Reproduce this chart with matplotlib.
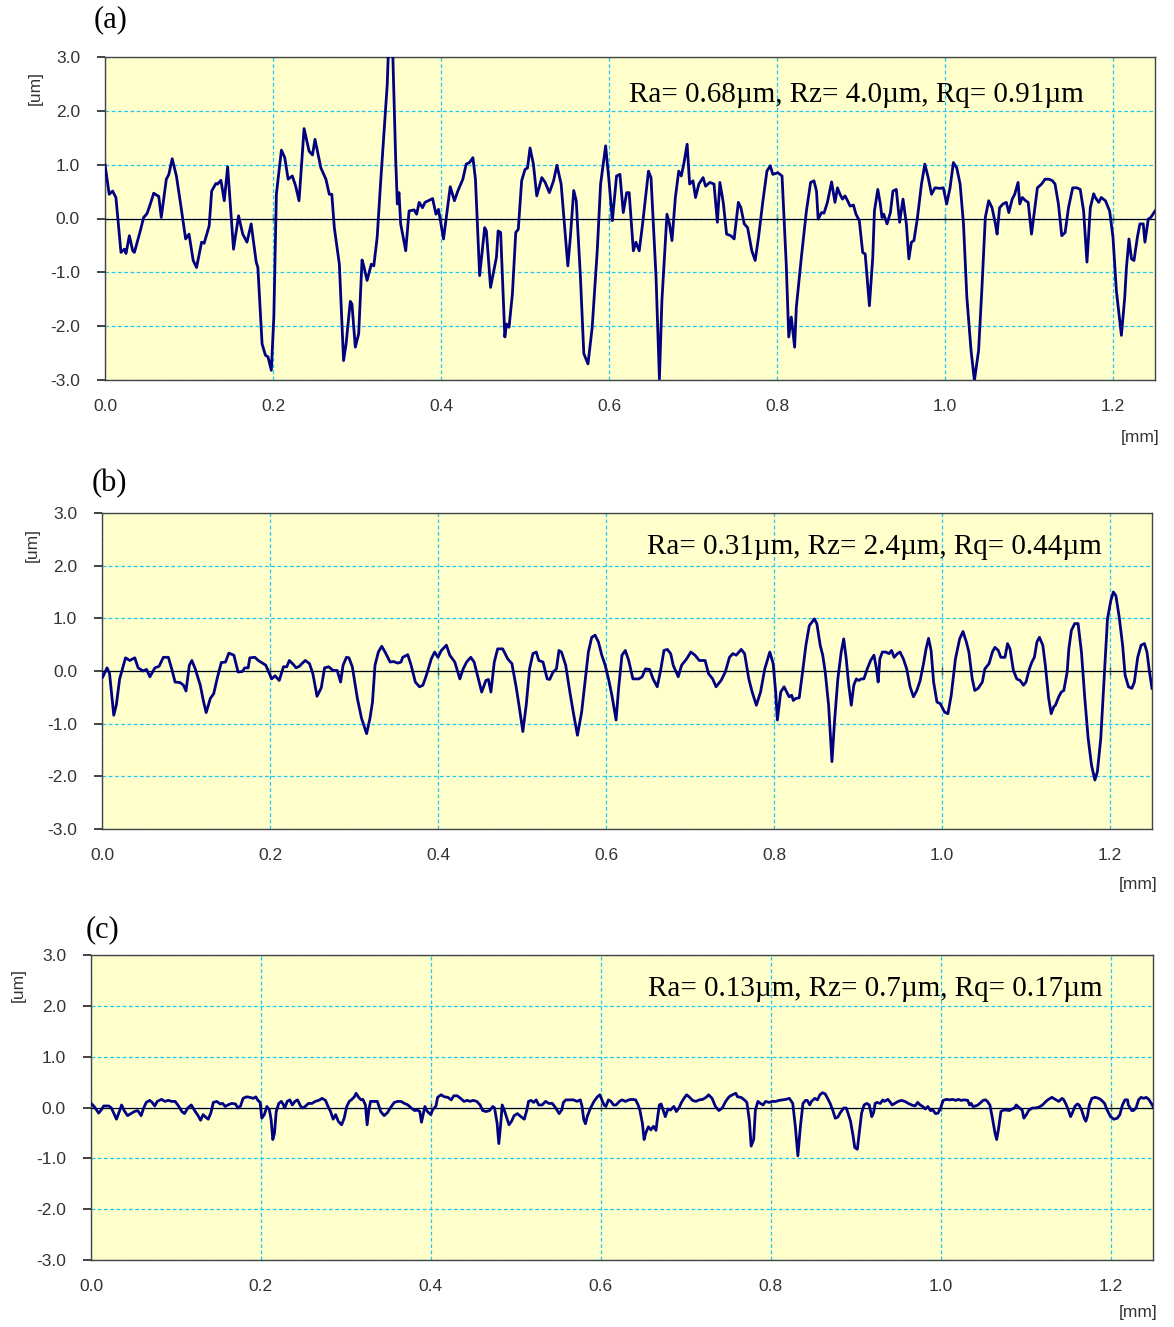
import matplotlib.pyplot as plt
import numpy as np

# perfil (a)
x_a = [0.000, 0.005, 0.009, 0.013, 0.019, 0.023, 0.025, 0.029, 0.033, 0.035, 0.042, 0.046, 0.050, 0.054, 0.058,
       0.064, 0.067, 0.073, 0.076, 0.080, 0.085, 0.090, 0.096, 0.100, 0.105, 0.109, 0.115, 0.118, 0.124, 0.127,
       0.132, 0.134, 0.138, 0.142, 0.146, 0.153, 0.159, 0.164, 0.169, 0.174, 0.180, 0.182, 0.187, 0.191, 0.194,
       0.198, 0.201, 0.204, 0.210, 0.214, 0.218, 0.223, 0.227, 0.231, 0.237, 0.243, 0.247, 0.250, 0.257, 0.263,
       0.267, 0.270, 0.273, 0.279, 0.284, 0.287, 0.292, 0.294, 0.298, 0.302, 0.306, 0.308, 0.312, 0.317, 0.320,
       0.324, 0.328, 0.332, 0.336, 0.338, 0.342, 0.346, 0.348, 0.350, 0.352, 0.358, 0.362, 0.368, 0.371, 0.374,
       0.378, 0.381, 0.390, 0.394, 0.397, 0.403, 0.411, 0.416, 0.420, 0.426, 0.430, 0.434, 0.438, 0.441, 0.446,
       0.452, 0.454, 0.459, 0.466, 0.468, 0.471, 0.476, 0.478, 0.481, 0.485, 0.489, 0.492, 0.496, 0.500, 0.503,
       0.506, 0.510, 0.514, 0.520, 0.524, 0.529, 0.534, 0.538, 0.543, 0.551, 0.554, 0.558, 0.561, 0.566, 0.570,
       0.575, 0.580, 0.586, 0.590, 0.596, 0.600, 0.604, 0.609, 0.613, 0.617, 0.621, 0.624, 0.629, 0.632, 0.636,
       0.640, 0.647, 0.650, 0.656, 0.660, 0.663, 0.669, 0.672, 0.675, 0.679, 0.683, 0.686, 0.689, 0.693, 0.696,
       0.700, 0.703, 0.707, 0.712, 0.715, 0.720, 0.725, 0.729, 0.732, 0.736, 0.740, 0.745, 0.749, 0.754, 0.757,
       0.761, 0.765, 0.770, 0.774, 0.778, 0.783, 0.788, 0.792, 0.795, 0.801, 0.806, 0.811, 0.814, 0.817, 0.821,
       0.823, 0.829, 0.835, 0.840, 0.844, 0.847, 0.849, 0.853, 0.856, 0.860, 0.865, 0.869, 0.872, 0.875, 0.878,
       0.881, 0.884, 0.887, 0.891, 0.894, 0.898, 0.902, 0.905, 0.910, 0.914, 0.916, 0.920, 0.923, 0.925, 0.927,
       0.931, 0.935, 0.938, 0.942, 0.946, 0.950, 0.954, 0.957, 0.960, 0.963, 0.967, 0.972, 0.976, 0.980, 0.984,
       0.988, 0.994, 0.998, 1.002, 1.006, 1.010, 1.014, 1.018, 1.022, 1.026, 1.031, 1.035, 1.040, 1.044, 1.048,
       1.052, 1.056, 1.060, 1.062, 1.065, 1.069, 1.073, 1.076, 1.080, 1.083, 1.087, 1.089, 1.092, 1.096, 1.099,
       1.103, 1.106, 1.110, 1.115, 1.119, 1.124, 1.128, 1.131, 1.135, 1.139, 1.143, 1.147, 1.152, 1.157, 1.161,
       1.165, 1.169, 1.173, 1.177, 1.179, 1.183, 1.186, 1.191, 1.196, 1.200, 1.204, 1.210, 1.214, 1.216, 1.219,
       1.222, 1.225, 1.229, 1.232, 1.236, 1.238, 1.242, 1.245, 1.250]
z_a = [1.00, 0.45, 0.51, 0.39, -0.63, -0.57, -0.65, -0.32, -0.60, -0.63, -0.23, 0.02, 0.09, 0.27, 0.47,
       0.41, 0.02, 0.73, 0.82, 1.11, 0.79, 0.27, -0.38, -0.29, -0.78, -0.91, -0.44, -0.46, -0.14, 0.51,
       0.65, 0.64, 0.71, 0.33, 0.96, -0.57, 0.05, -0.29, -0.44, -0.10, -0.81, -0.91, -2.33, -2.54, -2.57,
       -2.82, -1.83, 0.45, 1.27, 1.13, 0.73, 0.79, 0.60, 0.33, 1.67, 1.25, 1.18, 1.47, 0.94, 0.73,
       0.45, 0.45, -0.17, -0.85, -2.64, -2.33, -1.54, -1.59, -2.39, -2.14, -0.77, -0.88, -1.15, -0.85, -0.88,
       -0.35, 0.64, 1.56, 2.49, 3.40, 3.40, 1.13, 0.27, 0.48, -0.10, -0.60, 0.14, 0.16, 0.08, 0.30,
       0.20, 0.30, 0.37, 0.08, 0.17, -0.38, 0.59, 0.33, 0.51, 0.73, 1.01, 1.04, 1.13, 0.73, -1.06,
       -0.17, -0.23, -1.28, -0.72, -0.23, -0.26, -2.20, -1.96, -2.02, -1.40, -0.26, -0.20, 0.70, 0.91, 0.94,
       1.31, 1.01, 0.42, 0.76, 0.67, 0.48, 0.70, 0.99, 0.64, -0.88, -0.35, 0.52, 0.33, -1.09, -2.51,
       -2.70, -2.02, -0.60, 0.64, 1.35, 0.70, -0.04, 0.79, 0.82, 0.11, 0.48, 0.48, -0.60, -0.44, -0.60,
       -0.10, 0.88, 0.76, -1.09, -2.98, -1.52, 0.08, -0.10, -0.41, 0.39, 0.88, 0.79, 1.01, 1.38, 0.64,
       0.70, 0.39, 0.64, 0.76, 0.60, 0.67, 0.64, -0.07, 0.67, 0.30, -0.29, -0.32, -0.38, 0.30, 0.20,
       -0.10, -0.17, -0.60, -0.78, -0.35, 0.30, 0.88, 0.98, 0.82, 0.85, 0.79, -0.85, -2.20, -1.83, -2.39,
       -1.65, -0.72, 0.14, 0.67, 0.70, 0.51, -0.01, 0.11, 0.10, 0.30, 0.68, 0.30, 0.57, 0.45, 0.36,
       0.42, 0.33, 0.23, 0.25, 0.08, -0.04, -0.63, -0.66, -1.62, -0.72, 0.14, 0.54, 0.27, 0.02, 0.08,
       -0.10, 0.11, 0.51, 0.54, -0.07, 0.36, -0.10, -0.75, -0.44, -0.41, -0.01, 0.64, 1.01, 0.76, 0.45,
       0.57, 0.56, 0.57, 0.27, 0.57, 1.04, 0.94, 0.64, -0.10, -1.46, -2.45, -3.01, -2.45, -1.28, 0.02,
       0.33, 0.20, -0.10, -0.29, 0.20, 0.27, 0.30, 0.11, 0.36, 0.45, 0.67, 0.27, 0.39, 0.33, 0.30,
       -0.29, 0.08, 0.57, 0.64, 0.73, 0.73, 0.70, 0.64, 0.27, -0.32, -0.26, 0.20, 0.57, 0.57, 0.54,
       0.14, -0.81, 0.20, 0.46, 0.39, 0.30, 0.39, 0.33, 0.14, -0.35, -1.34, -2.17, -1.46, -0.91, -0.38,
       -0.75, -0.78, -0.35, -0.10, -0.10, -0.44, -0.01, 0.02, 0.14]

# perfil (b)
x_b = [0.001, 0.006, 0.009, 0.014, 0.017, 0.021, 0.028, 0.033, 0.039, 0.043, 0.049, 0.053, 0.057, 0.063, 0.068,
       0.073, 0.079, 0.083, 0.087, 0.093, 0.097, 0.100, 0.104, 0.107, 0.111, 0.117, 0.121, 0.124, 0.129, 0.133,
       0.137, 0.142, 0.147, 0.151, 0.157, 0.162, 0.167, 0.170, 0.174, 0.176, 0.182, 0.186, 0.190, 0.195, 0.202,
       0.206, 0.211, 0.216, 0.220, 0.223, 0.228, 0.231, 0.235, 0.238, 0.242, 0.247, 0.251, 0.256, 0.261, 0.265,
       0.270, 0.275, 0.280, 0.284, 0.287, 0.291, 0.294, 0.298, 0.304, 0.309, 0.315, 0.319, 0.322, 0.325, 0.329,
       0.333, 0.337, 0.343, 0.347, 0.352, 0.356, 0.358, 0.364, 0.368, 0.373, 0.378, 0.382, 0.386, 0.392, 0.396,
       0.400, 0.404, 0.410, 0.414, 0.420, 0.426, 0.430, 0.434, 0.439, 0.443, 0.447, 0.452, 0.457, 0.460, 0.463,
       0.467, 0.471, 0.477, 0.483, 0.488, 0.493, 0.497, 0.501, 0.505, 0.509, 0.513, 0.517, 0.520, 0.525, 0.530,
       0.533, 0.537, 0.541, 0.544, 0.547, 0.552, 0.557, 0.561, 0.566, 0.571, 0.575, 0.579, 0.583, 0.587, 0.591,
       0.595, 0.599, 0.603, 0.607, 0.612, 0.615, 0.619, 0.623, 0.627, 0.632, 0.639, 0.643, 0.647, 0.652, 0.656,
       0.661, 0.665, 0.669, 0.673, 0.677, 0.680, 0.686, 0.690, 0.696, 0.701, 0.706, 0.711, 0.718, 0.722, 0.727,
       0.731, 0.737, 0.742, 0.747, 0.751, 0.755, 0.761, 0.765, 0.770, 0.774, 0.779, 0.784, 0.789, 0.795, 0.799,
       0.802, 0.804, 0.808, 0.812, 0.818, 0.821, 0.823, 0.826, 0.830, 0.834, 0.838, 0.842, 0.848, 0.851, 0.855,
       0.858, 0.861, 0.865, 0.869, 0.872, 0.876, 0.880, 0.883, 0.886, 0.889, 0.892, 0.895, 0.898, 0.901, 0.904,
       0.907, 0.911, 0.915, 0.919, 0.922, 0.924, 0.926, 0.929, 0.933, 0.937, 0.940, 0.943, 0.947, 0.950, 0.954,
       0.958, 0.962, 0.966, 0.970, 0.974, 0.978, 0.981, 0.984, 0.987, 0.990, 0.994, 0.998, 1.003, 1.007, 1.011,
       1.016, 1.021, 1.025, 1.029, 1.032, 1.036, 1.039, 1.043, 1.048, 1.051, 1.056, 1.060, 1.063, 1.067, 1.070,
       1.075, 1.078, 1.081, 1.085, 1.089, 1.093, 1.097, 1.100, 1.104, 1.107, 1.110, 1.113, 1.116, 1.120, 1.123,
       1.127, 1.130, 1.133, 1.135, 1.139, 1.142, 1.145, 1.149, 1.151, 1.154, 1.158, 1.162, 1.166, 1.170, 1.174,
       1.178, 1.182, 1.185, 1.189, 1.193, 1.197, 1.201, 1.204, 1.207, 1.211, 1.215, 1.218, 1.222, 1.226, 1.229,
       1.233, 1.237, 1.241, 1.244, 1.247, 1.250]
z_b = [-0.11, 0.06, -0.05, -0.84, -0.65, -0.15, 0.25, 0.20, 0.25, 0.06, 0.00, 0.03, -0.11, 0.06, 0.09,
       0.26, 0.26, 0.04, -0.21, -0.22, -0.27, -0.38, 0.11, 0.20, 0.04, -0.27, -0.59, -0.79, -0.52, -0.43,
       -0.15, 0.16, 0.17, 0.34, 0.30, -0.02, -0.01, 0.06, 0.06, 0.25, 0.26, 0.20, 0.16, 0.11, -0.15,
       -0.09, -0.18, 0.08, 0.08, 0.20, 0.12, 0.06, 0.09, 0.14, 0.20, 0.14, -0.05, -0.48, -0.32, 0.06,
       0.08, 0.01, 0.01, -0.21, 0.11, 0.26, 0.25, 0.08, -0.52, -0.90, -1.19, -0.90, -0.59, 0.11, 0.36,
       0.47, 0.36, 0.17, 0.18, 0.15, 0.17, 0.26, 0.31, 0.11, -0.21, -0.30, -0.27, -0.09, 0.23, 0.36,
       0.26, 0.39, 0.49, 0.30, 0.17, -0.15, 0.04, 0.17, 0.26, 0.17, -0.08, -0.40, -0.18, -0.16, -0.40,
       0.17, 0.42, 0.42, 0.23, 0.14, -0.30, -0.71, -1.15, -0.65, 0.04, 0.33, 0.36, 0.20, 0.17, -0.15,
       -0.16, -0.02, 0.04, 0.39, 0.36, 0.11, -0.40, -0.78, -1.22, -0.78, -0.21, 0.36, 0.64, 0.68, 0.55,
       0.30, 0.11, -0.15, -0.46, -0.93, -0.33, 0.30, 0.39, 0.20, -0.15, -0.15, -0.11, 0.04, 0.03, -0.15,
       -0.30, 0.01, 0.39, 0.41, 0.33, 0.11, -0.11, 0.11, 0.23, 0.36, 0.30, 0.20, 0.20, -0.05, -0.15,
       -0.30, -0.18, -0.02, 0.26, 0.33, 0.30, 0.41, 0.33, -0.15, -0.40, -0.65, -0.40, 0.04, 0.36, 0.14,
       -0.40, -0.93, -0.40, -0.30, -0.49, -0.46, -0.56, -0.52, -0.51, -0.02, 0.49, 0.86, 0.99, 0.90, 0.49,
       0.30, -0.02, -0.65, -1.72, -0.97, -0.15, 0.36, 0.61, 0.23, -0.27, -0.65, -0.27, -0.15, -0.18, -0.15,
       -0.15, 0.04, 0.20, 0.30, 0.04, -0.21, 0.23, 0.36, 0.36, 0.33, 0.39, 0.26, 0.33, 0.36, 0.23,
       0.04, -0.30, -0.49, -0.37, -0.18, 0.14, 0.42, 0.62, 0.39, -0.21, -0.59, -0.62, -0.78, -0.81, -0.46,
       0.23, 0.61, 0.75, 0.55, 0.36, -0.15, -0.37, -0.33, -0.21, 0.04, 0.14, 0.36, 0.45, 0.39, 0.26,
       0.26, 0.52, 0.42, 0.01, -0.15, -0.18, -0.27, -0.21, 0.04, 0.17, 0.26, 0.55, 0.64, 0.49, 0.11,
       -0.52, -0.81, -0.68, -0.65, -0.49, -0.40, -0.37, -0.02, 0.42, 0.77, 0.90, 0.90, 0.36, -0.52, -1.28,
       -1.79, -2.07, -1.91, -1.28, -0.15, 0.99, 1.34, 1.50, 1.43, 1.02, 0.49, -0.08, -0.30, -0.33, -0.21,
       0.26, 0.49, 0.52, 0.36, -0.02, -0.33]

# perfil (c)
x_c = [0.000, 0.002, 0.005, 0.009, 0.012, 0.015, 0.021, 0.024, 0.028, 0.030, 0.034, 0.036, 0.039, 0.043, 0.047,
       0.051, 0.055, 0.059, 0.062, 0.065, 0.069, 0.072, 0.075, 0.078, 0.083, 0.087, 0.091, 0.095, 0.099, 0.103,
       0.107, 0.110, 0.114, 0.118, 0.122, 0.126, 0.129, 0.132, 0.135, 0.138, 0.141, 0.144, 0.148, 0.152, 0.155,
       0.158, 0.161, 0.164, 0.166, 0.170, 0.173, 0.176, 0.179, 0.183, 0.187, 0.191, 0.194, 0.196, 0.199, 0.201,
       0.204, 0.207, 0.210, 0.212, 0.214, 0.216, 0.218, 0.221, 0.224, 0.226, 0.228, 0.231, 0.234, 0.237, 0.240,
       0.243, 0.247, 0.249, 0.252, 0.256, 0.260, 0.264, 0.268, 0.272, 0.276, 0.279, 0.282, 0.285, 0.288, 0.291,
       0.295, 0.298, 0.301, 0.304, 0.307, 0.310, 0.312, 0.315, 0.318, 0.320, 0.323, 0.325, 0.327, 0.329, 0.333,
       0.337, 0.341, 0.345, 0.349, 0.353, 0.357, 0.361, 0.365, 0.369, 0.373, 0.377, 0.381, 0.384, 0.387, 0.389,
       0.393, 0.396, 0.400, 0.402, 0.406, 0.408, 0.412, 0.416, 0.420, 0.424, 0.427, 0.431, 0.435, 0.439, 0.443,
       0.446, 0.450, 0.454, 0.458, 0.461, 0.465, 0.469, 0.473, 0.475, 0.478, 0.480, 0.482, 0.484, 0.487, 0.490,
       0.492, 0.495, 0.498, 0.502, 0.506, 0.510, 0.513, 0.515, 0.518, 0.521, 0.524, 0.527, 0.531, 0.535, 0.539,
       0.543, 0.547, 0.551, 0.554, 0.556, 0.559, 0.563, 0.568, 0.572, 0.576, 0.578, 0.580, 0.582, 0.584, 0.588,
       0.592, 0.596, 0.599, 0.602, 0.604, 0.606, 0.609, 0.612, 0.615, 0.618, 0.622, 0.625, 0.629, 0.633, 0.637,
       0.641, 0.644, 0.646, 0.649, 0.651, 0.653, 0.656, 0.659, 0.662, 0.665, 0.667, 0.669, 0.671, 0.674, 0.676,
       0.679, 0.682, 0.686, 0.689, 0.692, 0.695, 0.698, 0.701, 0.704, 0.708, 0.712, 0.716, 0.720, 0.724, 0.727,
       0.731, 0.735, 0.739, 0.743, 0.747, 0.751, 0.755, 0.759, 0.761, 0.765, 0.769, 0.772, 0.775, 0.777, 0.780,
       0.782, 0.785, 0.788, 0.791, 0.794, 0.798, 0.802, 0.806, 0.810, 0.814, 0.818, 0.822, 0.826, 0.829, 0.832,
       0.835, 0.838, 0.841, 0.843, 0.846, 0.848, 0.852, 0.855, 0.858, 0.861, 0.864, 0.867, 0.870, 0.873, 0.876,
       0.879, 0.882, 0.886, 0.889, 0.891, 0.894, 0.897, 0.899, 0.902, 0.904, 0.907, 0.910, 0.913, 0.916, 0.919,
       0.921, 0.923, 0.925, 0.929, 0.932, 0.934, 0.938, 0.940, 0.943, 0.946, 0.950, 0.954, 0.958, 0.962, 0.966,
       0.970, 0.973, 0.976, 0.979, 0.982, 0.985, 0.988, 0.991, 0.994, 0.997, 1.000, 1.003, 1.007, 1.011, 1.014,
       1.018, 1.021, 1.024, 1.028, 1.032, 1.034, 1.036, 1.038, 1.041, 1.044, 1.046, 1.050, 1.053, 1.055, 1.058,
       1.061, 1.064, 1.066, 1.068, 1.071, 1.074, 1.077, 1.081, 1.084, 1.087, 1.089, 1.093, 1.096, 1.098, 1.101,
       1.104, 1.108, 1.112, 1.116, 1.120, 1.124, 1.127, 1.131, 1.135, 1.139, 1.143, 1.145, 1.148, 1.151, 1.153,
       1.155, 1.158, 1.161, 1.163, 1.166, 1.169, 1.171, 1.173, 1.175, 1.178, 1.182, 1.186, 1.189, 1.193, 1.196,
       1.200, 1.204, 1.208, 1.211, 1.214, 1.217, 1.220, 1.221, 1.225, 1.227, 1.230, 1.233, 1.236, 1.239, 1.242,
       1.245, 1.248, 1.250]
z_c = [0.08, 0.05, -0.01, -0.11, -0.05, 0.03, 0.03, -0.01, -0.16, -0.23, -0.05, 0.05, -0.06, -0.16, -0.12,
       -0.08, -0.06, -0.16, -0.01, 0.10, 0.14, 0.10, 0.03, 0.12, 0.16, 0.12, 0.14, 0.12, 0.12, 0.03,
       -0.08, -0.12, -0.01, 0.05, -0.06, -0.16, -0.25, -0.14, -0.19, -0.23, -0.11, 0.10, 0.12, 0.07, 0.08,
       0.02, 0.05, 0.07, 0.08, 0.07, -0.01, 0.03, 0.18, 0.21, 0.20, 0.18, 0.21, 0.15, 0.10, -0.21,
       -0.14, 0.02, -0.05, -0.24, -0.63, -0.50, -0.08, 0.08, 0.12, 0.07, -0.01, 0.12, 0.15, 0.05, 0.12,
       0.15, 0.02, -0.01, 0.02, 0.08, 0.08, 0.12, 0.14, 0.18, 0.14, 0.02, -0.08, -0.23, -0.14, -0.27,
       -0.34, -0.21, 0.02, 0.12, 0.16, 0.21, 0.28, 0.20, 0.15, 0.16, 0.05, -0.34, -0.05, 0.12, 0.12,
       0.12, -0.08, -0.16, -0.10, 0.01, 0.10, 0.12, 0.12, 0.08, 0.05, -0.01, -0.06, -0.05, -0.08, -0.29,
       0.02, -0.08, -0.14, -0.05, 0.03, 0.20, 0.25, 0.21, 0.20, 0.15, 0.23, 0.23, 0.18, 0.12, 0.14,
       0.12, 0.14, 0.12, 0.05, -0.06, -0.08, -0.06, 0.02, -0.01, -0.31, -0.71, -0.37, 0.05, -0.08, -0.24,
       -0.34, -0.27, -0.16, -0.12, -0.18, -0.23, -0.05, 0.12, 0.14, 0.10, 0.15, 0.05, 0.05, 0.12, 0.08,
       0.08, -0.01, -0.12, -0.05, 0.10, 0.15, 0.15, 0.15, 0.12, 0.15, 0.02, -0.24, -0.32, -0.18, -0.01,
       0.12, 0.21, 0.25, 0.12, 0.05, 0.02, 0.15, 0.12, 0.05, 0.05, 0.12, 0.15, 0.12, 0.15, 0.16,
       0.15, 0.05, -0.05, -0.31, -0.63, -0.50, -0.38, -0.44, -0.37, -0.45, -0.18, 0.05, 0.07, -0.08, -0.18,
       -0.03, -0.05, 0.02, -0.08, -0.01, 0.10, 0.18, 0.25, 0.21, 0.14, 0.12, 0.15, 0.16, 0.20, 0.25,
       0.18, 0.02, -0.06, -0.01, 0.12, 0.21, 0.25, 0.28, 0.21, 0.20, 0.15, 0.10, -0.27, -0.76, -0.63,
       -0.05, 0.12, 0.08, 0.05, 0.12, 0.10, 0.12, 0.12, 0.14, 0.15, 0.16, 0.18, 0.08, -0.37, -0.95,
       -0.37, 0.08, 0.14, 0.14, 0.05, 0.12, 0.18, 0.15, 0.25, 0.29, 0.27, 0.18, 0.08, -0.05, -0.21,
       -0.19, -0.10, -0.01, -0.01, -0.11, -0.27, -0.56, -0.79, -0.82, -0.53, -0.11, 0.05, 0.08, 0.05, -0.18,
       -0.11, 0.08, 0.10, 0.08, 0.15, 0.12, 0.16, 0.12, 0.05, 0.08, 0.12, 0.14, 0.12, 0.08, 0.05,
       0.03, 0.10, 0.05, 0.02, -0.03, 0.02, -0.06, -0.05, -0.12, -0.11, -0.01, 0.14, 0.16, 0.15, 0.16,
       0.14, 0.16, 0.14, 0.15, 0.14, 0.05, 0.08, 0.02, 0.03, 0.05, 0.08, 0.14, 0.15, 0.12, 0.05,
       -0.21, -0.50, -0.63, -0.44, -0.08, -0.05, -0.05, -0.06, -0.03, -0.01, 0.05, -0.01, -0.05, -0.21, -0.14,
       -0.05, -0.01, -0.01, 0.01, 0.05, 0.12, 0.16, 0.20, 0.16, 0.12, 0.18, 0.15, 0.05, -0.08, -0.18,
       -0.11, 0.02, 0.07, 0.05, -0.05, -0.21, -0.27, -0.16, 0.05, 0.18, 0.20, 0.18, 0.15, 0.08, -0.05,
       -0.18, -0.23, -0.21, -0.14, 0.05, 0.15, 0.15, 0.05, -0.06, -0.06, -0.01, 0.15, 0.20, 0.18, 0.20,
       0.16, 0.08, 0.02]

rotulos = ['(a)', '(b)', '(c)']
textos = ['Ra= 0.68\u00b5m, Rz= 4.0\u00b5m, Rq= 0.91\u00b5m',
          'Ra= 0.31\u00b5m, Rz= 2.4\u00b5m, Rq= 0.44\u00b5m',
          'Ra= 0.13\u00b5m, Rz= 0.7\u00b5m, Rq= 0.17\u00b5m']

W, H = 1174, 1327
fig = plt.figure(figsize=(W / 100, H / 100), dpi=100)


def fx(px):
    return px / W


def fy(py):
    return 1 - py / H


def Painel(x, z, caixa, rotulo, rot_xy, texto, texto_xy, um_xy, mm_xy):
    # caixa em pixels: esquerda, topo, direita, base
    l, t, r, b = caixa
    ax = fig.add_axes([fx(l), fy(b), fx(r - l), (b - t) / H])
    ax.set_facecolor('#FFFFCC')
    ax.plot(x, z, color='#000080', linewidth=2.0, zorder=4)
    ax.axhline(0, color='black', linewidth=0.9, zorder=3)
    ax.set_xlim(0, 1.25)
    ax.set_ylim(-3, 3)
    ax.set_xticks(np.arange(0, 1.21, 0.2))
    ax.set_yticks(np.arange(-3, 3.1, 1.0))
    ax.xaxis.set_major_formatter(plt.FormatStrFormatter('%.1f'))
    ax.yaxis.set_major_formatter(plt.FormatStrFormatter('%.1f'))
    ax.grid(True, color='#22C8F5', linestyle=(0, (3, 2)), linewidth=0.9, zorder=1)
    ax.set_axisbelow(True)
    for s in ax.spines.values():
        s.set_color('#444444')
        s.set_linewidth(1.0)
    ax.tick_params(axis='x', length=0, pad=14, labelsize=12.5, labelcolor='#333333')
    ax.tick_params(axis='y', length=6, width=1.2, color='#222222', pad=12, labelsize=12.5, labelcolor='#333333')
    for lab in ax.get_xticklabels() + ax.get_yticklabels():
        lab.set_fontfamily('Liberation Sans')

    # marcas pequenas sobre a linha do zero
    sec = ax.secondary_xaxis(0.5)
    sec.set_xticks(np.arange(0.2, 1.21, 0.2))
    sec.tick_params(direction='inout', length=6, width=1.0, color='#333333',
                    labelbottom=False, labeltop=False)
    sec.spines['bottom'].set_visible(False)
    sec.spines['top'].set_visible(False)

    fig.text(fx(rot_xy[0]), fy(rot_xy[1]), rotulo, fontsize=22, family='Liberation Serif',
             ha='left', va='center')
    fig.text(fx(texto_xy[0]), fy(texto_xy[1]), texto, fontsize=21, family='Liberation Serif',
             ha='center', va='center', zorder=10)
    fig.text(fx(um_xy[0]), fy(um_xy[1]), '[um]', fontsize=12.5, family='Liberation Sans',
             color='#333333', rotation=90, ha='center', va='center')
    fig.text(fx(mm_xy[0]), fy(mm_xy[1]), '[mm]', fontsize=12.5, family='Liberation Sans',
             color='#333333', ha='center', va='center')
    return ax


Painel(x_a, z_a, (105, 57, 1155, 380), rotulos[0], (94, 20), textos[0], (856, 95), (35, 88), (1140, 437))
Painel(x_b, z_b, (102, 513, 1152, 829), rotulos[1], (92, 484), textos[1], (874, 547), (32, 545), (1138, 884))
Painel(x_c, z_c, (91, 955, 1153, 1260), rotulos[2], (86, 930), textos[2], (875, 989), (18, 985), (1138, 1312))

fig.savefig('out.png', dpi=100)
